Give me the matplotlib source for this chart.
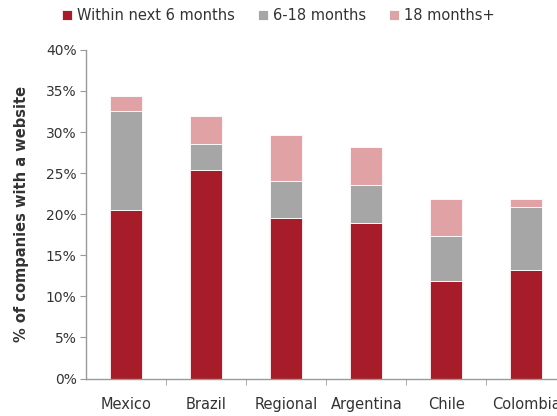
import numpy as np
import matplotlib
matplotlib.use("Agg")
import matplotlib.pyplot as plt
from matplotlib.ticker import FuncFormatter, MultipleLocator

# data (percent)
countries = ["Mexico", "Brazil", "Regional", "Argentina", "Chile", "Colombia"]
within_6m = [20.5, 25.4, 19.5, 18.9, 11.9, 13.2]
m6_18 = [12.1, 3.2, 4.6, 4.6, 5.5, 7.7]
m18_plus = [1.8, 3.3, 5.6, 4.7, 4.4, 1.0]

series_names = ["Within next 6 months", "6-18 months", "18 months+"]
colors = ["#A61C28", "#A6A6A6", "#E1A2A6"]
text_color = "#333333"

plt.rcParams['font.family'] = ['DejaVu Sans']

fig = plt.figure(figsize=(5.57, 4.16), dpi=100)
# axes runs past the right edge, like the cropped original
ax = fig.add_axes([0.155, 0.090, 0.862, 0.790])

x = np.arange(len(countries))
bottom = np.zeros(len(countries))
for name, vals, c in zip(series_names, [within_6m, m6_18, m18_plus], colors):
    ax.bar(x, vals, width=0.4, bottom=bottom, color=c, label=name,
           edgecolor="white", linewidth=0.6)
    bottom += np.array(vals)

ax.set_xlim(-0.5, len(countries) - 0.5)
ax.set_ylim(0, 40)
ax.yaxis.set_major_locator(MultipleLocator(5))
ax.yaxis.set_major_formatter(FuncFormatter(lambda v, p: f"{v:.0f}%"))

# category labels, ticks between categories
ax.set_xticks(x)
ax.set_xticklabels(countries, fontsize=10.5, color=text_color)
ax.set_xticks(np.arange(0.5, len(countries) - 0.5, 1), minor=True)
ax.tick_params(axis="x", which="major", length=0, pad=13)
ax.tick_params(axis="x", which="minor", length=4, color="#999999", direction="out")
ax.tick_params(axis="y", length=4, color="#999999", labelsize=10, labelcolor=text_color, pad=3)

for s in ["top", "right"]:
    ax.spines[s].set_visible(False)
for s in ["left", "bottom"]:
    ax.spines[s].set_color("#999999")
    ax.spines[s].set_linewidth(1)

ax.set_ylabel("% of companies with a website", fontsize=10.5, fontweight="bold",
              color=text_color, labelpad=12)

fig.legend(loc="upper left", bbox_to_anchor=(0.088, 1.012), ncol=3, frameon=False,
           fontsize=10.5, handlelength=0.7, handleheight=0.7, handletextpad=0.3,
           columnspacing=1.6, labelcolor=text_color)

fig.savefig("out.png", dpi=100)
